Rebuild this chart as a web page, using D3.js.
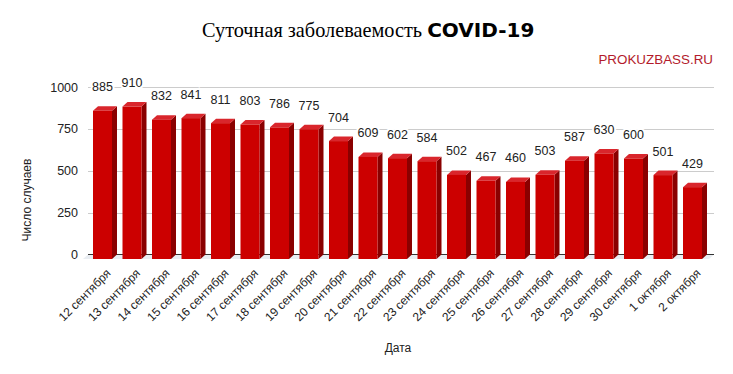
<!DOCTYPE html>
<html><head><meta charset="utf-8">
<script src="https://cdn.jsdelivr.net/npm/d3@7"></script>
<style>
html,body{margin:0;padding:0;background:#fff;}
svg{display:block;}
</style></head>
<body>
<svg id="chart" width="733" height="374"></svg>
<script>
const categories = ["12 сентября","13 сентября","14 сентября","15 сентября","16 сентября","17 сентября","18 сентября","19 сентября","20 сентября","21 сентября","22 сентября","23 сентября","24 сентября","25 сентября","26 сентября","27 сентября","28 сентября","29 сентября","30 сентября","1 октября","2 октября"];
const cases = [885,910,832,841,811,803,786,775,704,609,602,584,502,467,460,503,587,630,600,501,429];
const yTicks = [0,250,500,750,1000];
const titleText = "Суточная заболеваемость ";
const titleBold = "COVID-19";
const watermark = "PROKUZBASS.RU";
const xTitle = "Дата";
const yTitle = "Число случаев";

const svg = d3.select("#chart");
const DX = 5, DY = 4.5; // 3D depth offset
const gridLeft = 88, gridRight = 714;

const y = d3.scaleLinear().domain([0,1000]).range([254.5, 87]);
const x = d3.scaleBand().domain(categories).range([92.75, 712.25]).paddingInner(0.356).paddingOuter(0.178);

// title
const t = svg.append("text").attr("x",202).attr("y",37).attr("fill","#000");
t.append("tspan").attr("font-family","'Liberation Serif','Times New Roman',serif").attr("font-size","20.3px").text(titleText);
t.append("tspan").attr("font-family","'DejaVu Sans',sans-serif").attr("font-weight","bold").attr("font-size","20px").text(titleBold);

svg.append("text").attr("x",713).attr("y",64).attr("text-anchor","end")
  .attr("font-family","'Liberation Sans',Arial,sans-serif").attr("font-size","13.4px")
  .attr("fill","#b31b2c").text(watermark);

// gridlines
svg.append("g").selectAll("line").data(yTicks.filter(d=>d>0)).join("line")
  .attr("x1",gridLeft).attr("x2",gridRight)
  .attr("y1",d=>Math.round(y(d))+0.5).attr("y2",d=>Math.round(y(d))+0.5)
  .attr("stroke","#cccccc").attr("stroke-width",1);

// floor
svg.append("polygon")
  .attr("points",[[gridLeft,y(0)],[gridRight,y(0)],[gridRight-DX,y(0)+DY],[gridLeft-DX,y(0)+DY]].map(p=>p.join(",")).join(" "))
  .attr("fill","#e9edf2");
svg.append("line").attr("x1",gridLeft).attr("x2",gridRight)
  .attr("y1",y(0)).attr("y2",y(0)).attr("stroke","#333").attr("stroke-width",1);

// y axis tick labels
const yAxis = d3.axisLeft(y).tickValues(yTicks).tickFormat(d3.format("d")).tickSize(0).tickPadding(0);
const ya = svg.append("g").attr("transform","translate(78,0)").call(yAxis);
ya.select(".domain").remove();
ya.selectAll("text").attr("font-family","'Liberation Sans',Arial,sans-serif").attr("font-size","12.5px").attr("fill","#222");

// bars
const bars = svg.append("g").selectAll("g").data(cases).join("g");
bars.each(function(v,i){
  const g = d3.select(this);
  const bx = x(categories[i]) - DX; // front face left
  const w = x.bandwidth();
  const top = y(v) + DY, bot = y(0) + DY;
  g.append("polygon").attr("points",[[bx+w,top],[bx+w+DX,top-DY],[bx+w+DX,bot-DY],[bx+w,bot]].map(p=>p.join(",")).join(" ")).attr("fill","#8a0000");
  g.append("polygon").attr("points",[[bx,top],[bx+DX,top-DY],[bx+w+DX,top-DY],[bx+w,top]].map(p=>p.join(",")).join(" ")).attr("fill","#d9262c");
  g.append("rect").attr("x",bx).attr("y",top).attr("width",w).attr("height",bot-top).attr("fill","#cc0000");
});

// value labels
svg.append("g").selectAll("text").data(cases).join("text")
  .attr("x",(d,i)=>x(categories[i]) - DX + x.bandwidth()/2)
  .attr("y",d=>y(d)-15)
  .attr("text-anchor","middle")
  .attr("font-family","'Liberation Sans',Arial,sans-serif").attr("font-size","12.5px")
  .attr("fill","#222").attr("stroke","#fff").attr("stroke-width",4).attr("paint-order","stroke")
  .text(d=>d);

// x labels
svg.append("g").selectAll("text").data(categories).join("text")
  .attr("transform",d=>`translate(${x(d) - DX + x.bandwidth()/2 + 6},${271}) rotate(-45)`)
  .attr("text-anchor","end").attr("dy","0.35em")
  .attr("font-family","'Liberation Sans',Arial,sans-serif").attr("font-size","12px")
  .attr("fill","#222").text(d=>d);

// axis titles
svg.append("text").attr("x",398).attr("y",352).attr("text-anchor","middle")
  .attr("font-family","'Liberation Sans',Arial,sans-serif").attr("font-size","12px").attr("fill","#222").text(xTitle);
svg.append("text").attr("transform","translate(31,200) rotate(-90)").attr("text-anchor","middle")
  .attr("font-family","'Liberation Sans',Arial,sans-serif").attr("font-size","12px").attr("fill","#222").text(yTitle);
</script>
</body></html>
